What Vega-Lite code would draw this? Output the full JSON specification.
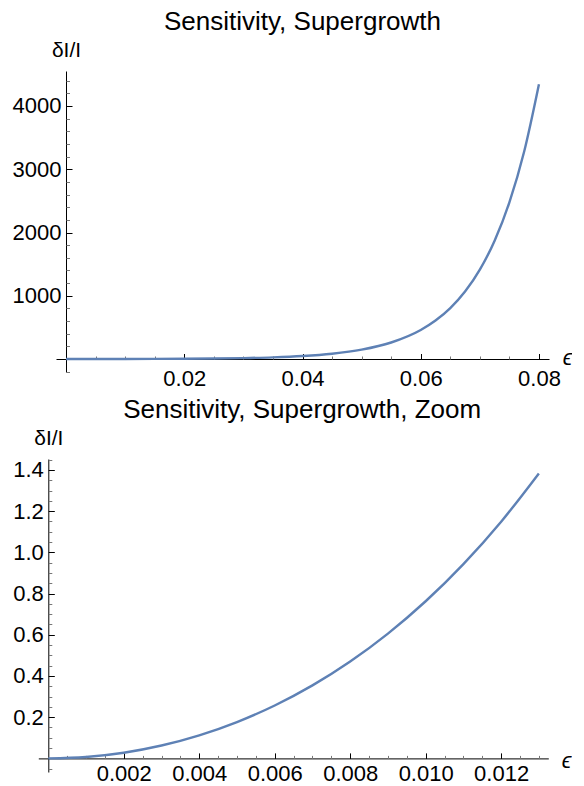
{
  "$schema": "https://vega.github.io/schema/vega-lite/v6.json",
  "background": "white",
  "padding": {"left": 12, "top": 9, "right": 0, "bottom": 0},
  "spacing": 8,
  "config": {
    "view": {"stroke": null},
    "font": "Liberation Sans",
    "title": {"font": "Liberation Sans", "fontSize": 26, "fontWeight": "normal", "color": "#000", "offset": 4, "anchor": "middle"},
    "axis": {"grid": false, "labelFont": "Liberation Sans", "labelFontSize": 22, "labelColor": "#000", "domainColor": "#000", "tickColor": "#000", "labelFlush": false, "labelOverlap": false, "titleFont": "Liberation Sans", "titleFontWeight": "normal", "titleColor": "#000"}
  },
  "datasets": {
    "top": [
      {"e": 0, "v": 0}, {"e": 0.005, "v": 0.176}, {"e": 0.01, "v": 0.763}, {"e": 0.015, "v": 1.949},
      {"e": 0.02, "v": 4.118}, {"e": 0.025, "v": 7.97}, {"e": 0.03, "v": 14.76}, {"e": 0.035, "v": 26.67},
      {"e": 0.04, "v": 47.6}, {"e": 0.045, "v": 84.3}, {"e": 0.05, "v": 148.5}, {"e": 0.055, "v": 261.2},
      {"e": 0.06, "v": 458.7}, {"e": 0.0625, "v": 607.9}, {"e": 0.065, "v": 805.3}, {"e": 0.0675, "v": 1066.6},
      {"e": 0.07, "v": 1412.7}, {"e": 0.0725, "v": 1871.0}, {"e": 0.075, "v": 2477.7}, {"e": 0.0775, "v": 3281.1},
      {"e": 0.08, "v": 4345.0}
    ],
    "bottom": [
      {"e": 0, "v": 0}, {"e": 0.001, "v": 0.00688}, {"e": 0.002, "v": 0.02761}, {"e": 0.003, "v": 0.06245},
      {"e": 0.004, "v": 0.11183}, {"e": 0.005, "v": 0.17639}, {"e": 0.006, "v": 0.25693}, {"e": 0.007, "v": 0.35449},
      {"e": 0.008, "v": 0.47027}, {"e": 0.009, "v": 0.60576}, {"e": 0.01, "v": 0.76265}, {"e": 0.011, "v": 0.94295},
      {"e": 0.012, "v": 1.14889}, {"e": 0.013, "v": 1.3831}
    ]
  },
  "vconcat": [
    {
      "width": 493, "height": 301,
      "title": "Sensitivity, Supergrowth",
      "data": {"name": "top"},
      "layer": [
        {
          "mark": {"type": "line", "color": "#5E81B5", "strokeWidth": 2.4, "interpolate": "monotone"},
          "encoding": {
            "x": {"field": "e", "type": "quantitative", "scale": {"domain": [-0.0017, 0.0817], "nice": false, "zero": false},
              "axis": {"orient": "bottom", "offset": -13, "values": [0.02, 0.04, 0.06, 0.08], "format": ".2f", "ticks": false, "labelPadding": 9,
                "title": "ϵ", "titleFontStyle": "italic", "titleFontSize": 22, "titleX": 511, "titleY": -2, "titleAlign": "center", "titleBaseline": "middle", "titleAngle": 0}},
            "y": {"field": "v", "type": "quantitative", "scale": {"domain": [-205, 4553], "nice": false, "zero": false},
              "axis": {"orient": "left", "offset": -10, "values": [1000, 2000, 3000, 4000], "format": "d", "ticks": false, "labelPadding": 5,
                "title": "δI/I", "titleFontSize": 21, "titleX": 0, "titleY": -15, "titleAlign": "center", "titleBaseline": "alphabetic", "titleAngle": 0}}
          }
        },
        {
          "mark": {"type": "line", "strokeOpacity": 0},
          "encoding": {
            "x": {"field": "e", "type": "quantitative", "axis": {"orient": "bottom", "offset": -13, "values": [0.02, 0.04, 0.06, 0.08], "labels": false, "domain": false, "tickSize": -5.5, "title": null}},
            "y": {"field": "v", "type": "quantitative", "axis": {"orient": "left", "offset": -10, "values": [1000, 2000, 3000, 4000], "labels": false, "domain": false, "tickSize": -6, "title": null}}
          }
        },
        {
          "mark": {"type": "line", "strokeOpacity": 0},
          "encoding": {
            "x": {"field": "e", "type": "quantitative", "axis": {"orient": "bottom", "offset": -13, "values": [0.005, 0.01, 0.015, 0.025, 0.03, 0.035, 0.045, 0.05, 0.055, 0.065, 0.07, 0.075], "labels": false, "domain": false, "tickSize": -3, "tickColor": "#777", "title": null}},
            "y": {"field": "v", "type": "quantitative", "axis": {"orient": "left", "offset": -10, "values": [-200, 200, 400, 600, 800, 1200, 1400, 1600, 1800, 2200, 2400, 2600, 2800, 3200, 3400, 3600, 3800, 4200, 4400], "labels": false, "domain": false, "tickSize": -3.5, "tickColor": "#777", "title": null}}
          }
        }
      ],
      "resolve": {"axis": {"x": "independent", "y": "independent"}}
    },
    {
      "width": 492.3, "height": 313,
      "title": "Sensitivity, Supergrowth, Zoom",
      "data": {"name": "bottom"},
      "layer": [
        {
          "mark": {"type": "line", "color": "#5E81B5", "strokeWidth": 2.4, "interpolate": "monotone", "clip": false},
          "encoding": {
            "x": {"field": "e", "type": "quantitative", "scale": {"domain": [-0.000265, 0.01325], "range": [-17.7, 492.3], "nice": false, "zero": false},
              "axis": {"orient": "bottom", "offset": -13.6, "values": [0.002, 0.004, 0.006, 0.008, 0.01, 0.012], "format": ".3f", "ticks": false, "labelPadding": 5,
                "title": "ϵ", "titleFontStyle": "italic", "titleFontSize": 22, "titleX": 510, "titleY": 2, "titleAlign": "center", "titleBaseline": "middle", "titleAngle": 0}},
            "y": {"field": "v", "type": "quantitative", "scale": {"domain": [-0.066, 1.453], "nice": false, "zero": false},
              "axis": {"orient": "left", "offset": 7.7, "values": [0.2, 0.4, 0.6, 0.8, 1.0, 1.2, 1.4], "format": ".1f", "ticks": false, "labelPadding": 5,
                "title": "δI/I", "titleFontSize": 21, "titleX": 0, "titleY": -15, "titleAlign": "center", "titleBaseline": "alphabetic", "titleAngle": 0}}
          }
        },
        {
          "mark": {"type": "line", "strokeOpacity": 0, "clip": false},
          "encoding": {
            "x": {"field": "e", "type": "quantitative", "axis": {"orient": "bottom", "offset": -13.6, "values": [0.002, 0.004, 0.006, 0.008, 0.01, 0.012], "labels": false, "domain": false, "tickSize": -5.5, "title": null}},
            "y": {"field": "v", "type": "quantitative", "axis": {"orient": "left", "offset": 7.7, "values": [0.2, 0.4, 0.6, 0.8, 1.0, 1.2, 1.4], "labels": false, "domain": false, "tickSize": -6, "title": null}}
          }
        },
        {
          "mark": {"type": "line", "strokeOpacity": 0, "clip": false},
          "encoding": {
            "x": {"field": "e", "type": "quantitative", "axis": {"orient": "bottom", "offset": -13.6, "values": [0.0005, 0.001, 0.0015, 0.0025, 0.003, 0.0035, 0.0045, 0.005, 0.0055, 0.0065, 0.007, 0.0075, 0.0085, 0.009, 0.0095, 0.0105, 0.011, 0.0115, 0.0125, 0.013], "labels": false, "domain": false, "tickSize": -3, "tickColor": "#777", "title": null}},
            "y": {"field": "v", "type": "quantitative", "axis": {"orient": "left", "offset": 7.7, "values": [-0.05, 0.05, 0.1, 0.15, 0.25, 0.3, 0.35, 0.45, 0.5, 0.55, 0.65, 0.7, 0.75, 0.85, 0.9, 0.95, 1.05, 1.1, 1.15, 1.25, 1.3, 1.35, 1.45], "labels": false, "domain": false, "tickSize": -3.5, "tickColor": "#777", "title": null}}
          }
        }
      ],
      "resolve": {"axis": {"x": "independent", "y": "independent"}}
    }
  ]
}
